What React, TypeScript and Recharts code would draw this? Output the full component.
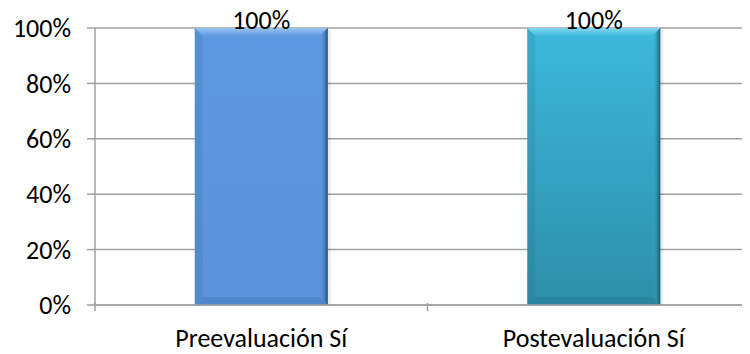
import React from "react";
import { BarChart, Bar, XAxis, YAxis, CartesianGrid, LabelList } from "recharts";

const categories = ["Preevaluación Sí", "Postevaluación Sí"];
const values = [1, 1];
const yTicks = [0, 0.2, 0.4, 0.6, 0.8, 1];

// per-bar palette: [top, bottom, light bevel, dark edge]
const barTop = ["#5E9AE1", "#3DB8DC"];
const barBottom = ["#5A93DA", "#2D8FA9"];
const barLight = ["#9CC4F2", "#86D7EE"];
const barDark = ["#23446F", "#184F5E"];

const data = categories.map((c, i) => ({ name: c, value: values[i] }));

const FONT = "Carlito, Calibri, 'Open Sans', sans-serif";
const TICK_SIZE = 8;
const X_TICK_MARGIN = 18;

const pct = (v: number) => `${Math.round(v * 100)}%`;

const BevelBar = (props: any) => {
  const { x, y, width, height, index } = props;
  if (!width || !height) return null;
  const b = Math.min(8, width / 6, height / 3);
  const id = `g${index}`;
  return (
    <g>
      <defs>
        <linearGradient id={`${id}v`} x1="0" y1="0" x2="0" y2="1">
          <stop offset="0%" stopColor={barTop[index]} />
          <stop offset="100%" stopColor={barBottom[index]} />
        </linearGradient>
        <linearGradient id={`${id}t`} x1="0" y1="0" x2="0" y2="1">
          <stop offset="0%" stopColor={barLight[index]} />
          <stop offset="100%" stopColor={barTop[index]} />
        </linearGradient>
        <linearGradient id={`${id}r`} x1="0" y1="0" x2="1" y2="0">
          <stop offset="0%" stopColor={barTop[index]} stopOpacity={0} />
          <stop offset="100%" stopColor={barDark[index]} stopOpacity={0.9} />
        </linearGradient>
      </defs>
      <rect x={x + width} y={y + 2} width={3} height={height - 2} fill="#000" opacity={0.08} />
      <rect x={x} y={y} width={width} height={height} fill={`url(#${id}v)`} />
      <polygon
        points={`${x},${y} ${x + width},${y} ${x + width - b},${y + b} ${x + b},${y + b}`}
        fill={`url(#${id}t)`}
      />
      <polygon
        points={`${x},${y} ${x + b},${y + b} ${x + b},${y + height - b} ${x},${y + height}`}
        fill={barDark[index]}
        opacity={0.12}
      />
      <polygon
        points={`${x + width},${y} ${x + width - b},${y + b} ${x + width - b},${y + height - b} ${x + width},${y + height}`}
        fill={`url(#${id}r)`}
      />
      <polygon
        points={`${x},${y + height} ${x + b},${y + height - b} ${x + width - b},${y + height - b} ${x + width},${y + height}`}
        fill={barDark[index]}
        opacity={0.15}
      />
    </g>
  );
};

const CatTick = (props: any) => {
  const { x, y, payload, index, visibleTicksCount, width } = props;
  const half =
    payload && typeof payload.offset === "number" && payload.offset > 0
      ? payload.offset
      : width / (visibleTicksCount || 1) / 2;
  const axisY = y - X_TICK_MARGIN - TICK_SIZE;
  return (
    <g>
      <line x1={x - half} x2={x - half} y1={axisY} y2={axisY + TICK_SIZE} stroke="#A0A0A0" strokeWidth={1.5} />
      {index === visibleTicksCount - 1 && (
        <line x1={x + half} x2={x + half} y1={axisY} y2={axisY + TICK_SIZE} stroke="#A0A0A0" strokeWidth={1.5} />
      )}
      <text x={x} y={y} dy="0.71em" textAnchor="middle" fill="#000" fontSize={26} fontFamily={FONT}>
        {payload.value}
      </text>
    </g>
  );
};

export default function App() {
  return (
    <div style={{ width: 742, height: 346, overflow: "hidden" }}>
      <BarChart
        width={760}
        height={346}
        data={data}
        margin={{ top: 20, right: 8, left: 0, bottom: 0 }}
        barCategoryGap="30%"
      >
        <CartesianGrid vertical={false} stroke="#A0A0A0" strokeWidth={1.5} />
        <XAxis
          dataKey="name"
          height={49}
          axisLine={{ stroke: "#A0A0A0", strokeWidth: 1.5 }}
          tickLine={false}
          tickMargin={X_TICK_MARGIN}
          tick={<CatTick />}
          interval={0}
        />
        <YAxis
          width={87}
          domain={[0, 1]}
          ticks={yTicks}
          tickFormatter={pct}
          axisLine={{ stroke: "#A0A0A0", strokeWidth: 1.5 }}
          tickLine={{ stroke: "#A0A0A0", strokeWidth: 1.5 }}
          tickSize={TICK_SIZE}
          tickMargin={16}
          tick={{ fill: "#000", fontSize: 26, fontFamily: FONT }}
          interval={0}
        />
        <Bar dataKey="value" isAnimationActive={false} shape={<BevelBar />}>
          <LabelList
            dataKey="value"
            position="top"
            offset={-1}
            formatter={(v: any) => pct(Number(v))}
            fill="#000"
            fontSize={26}
            fontFamily={FONT}
          />
        </Bar>
      </BarChart>
    </div>
  );
}
